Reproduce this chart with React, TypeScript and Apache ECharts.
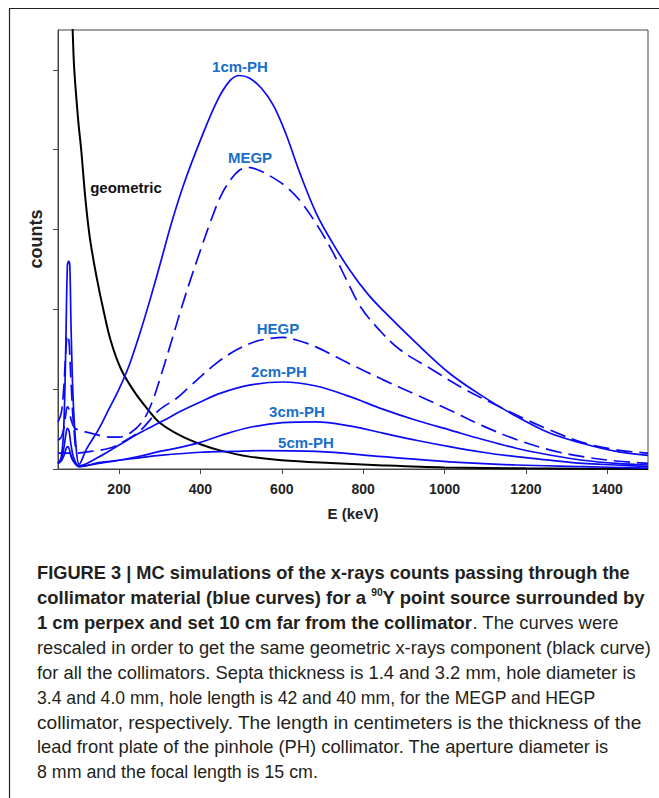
import React, { useEffect, useRef } from "react";
import * as echarts from "echarts";

// ---------- data (keV, counts in arbitrary units) ----------
const xTicks = [200, 400, 600, 800, 1000, 1200, 1400];
const yTicks = [0, 1, 2, 3, 4, 5];

const geoE = [80, 86, 90, 100, 107, 118, 129, 145, 160, 180, 205, 240, 275, 300, 350, 400, 450, 520, 600, 720, 850, 1000, 1200, 1500];
const geoV = [6.3, 5.5, 5.0, 4.35, 4.0, 3.35, 2.87, 2.4, 2.03, 1.6, 1.25, 0.95, 0.72, 0.58, 0.42, 0.31, 0.23, 0.155, 0.11, 0.075, 0.045, 0.02, 0.008, 0];

const e1cm = [50, 58, 64, 69, 73, 76, 79, 82, 87, 94, 102, 120, 150, 175, 200, 225, 250, 275, 300, 330, 360, 400, 440, 470, 494, 520, 550, 580, 610, 645, 685, 725, 766, 810, 850, 930, 1012, 1094, 1176, 1258, 1340, 1422, 1500];
const v1cm = [0.07, 0.15, 0.5, 1.5, 2.55, 2.6, 2.55, 1.8, 0.9, 0.3, 0.06, 0.25, 0.5, 0.75, 1.0, 1.3, 1.68, 2.1, 2.55, 3.1, 3.58, 4.12, 4.6, 4.85, 4.93, 4.9, 4.77, 4.55, 4.2, 3.7, 3.2, 2.83, 2.5, 2.2, 1.98, 1.58, 1.2, 0.91, 0.66, 0.45, 0.32, 0.22, 0.17];

const eMegp = [50, 58, 64, 69, 73, 77, 82, 90, 100, 130, 176, 200, 230, 258, 280, 300, 330, 356, 380, 400, 425, 450, 475, 495, 515, 540, 575, 610, 645, 685, 725, 760, 795, 840, 889, 971, 1053, 1135, 1200, 1258, 1340, 1422, 1500];
const vMegp = [0.36, 0.4, 0.5, 0.68, 0.78, 0.75, 0.62, 0.52, 0.49, 0.45, 0.4, 0.4, 0.46, 0.6, 0.82, 1.12, 1.62, 2.06, 2.44, 2.74, 3.1, 3.42, 3.63, 3.74, 3.78, 3.75, 3.66, 3.54, 3.36, 3.07, 2.72, 2.36, 2.02, 1.74, 1.5, 1.24, 0.99, 0.78, 0.62, 0.49, 0.33, 0.24, 0.2];

const eHegp = [50, 58, 64, 69, 73, 77, 82, 90, 100, 130, 176, 210, 250, 299, 340, 373, 438, 488, 537, 578, 602, 640, 684, 766, 848, 930, 1012, 1094, 1176, 1258, 1340, 1422, 1500];
const vHegp = [0.59, 0.7, 1.0, 1.45, 1.68, 1.6, 1.1, 0.45, 0.2, 0.22, 0.26, 0.34, 0.47, 0.74, 0.88, 1.03, 1.32, 1.49, 1.6, 1.64, 1.65, 1.61, 1.53, 1.32, 1.12, 0.93, 0.74, 0.54, 0.37, 0.24, 0.154, 0.1, 0.07];

const e2cm = [50, 58, 64, 69, 73, 77, 82, 90, 102, 150, 200, 250, 307, 350, 400, 450, 520, 602, 684, 766, 848, 930, 1012, 1094, 1176, 1258, 1340, 1422, 1500];
const v2cm = [0.07, 0.12, 0.25, 0.42, 0.51, 0.48, 0.3, 0.12, 0.04, 0.15, 0.3, 0.45, 0.6, 0.72, 0.84, 0.95, 1.05, 1.09, 1.04, 0.91, 0.75, 0.61, 0.49, 0.37, 0.26, 0.175, 0.11, 0.07, 0.05];

const e3cm = [50, 58, 64, 69, 73, 77, 82, 90, 102, 150, 200, 250, 300, 350, 397, 450, 520, 602, 684, 766, 848, 930, 1012, 1094, 1176, 1258, 1340, 1422, 1500];
const v3cm = [0.07, 0.1, 0.16, 0.24, 0.28, 0.26, 0.17, 0.08, 0.03, 0.07, 0.11, 0.16, 0.22, 0.27, 0.33, 0.42, 0.52, 0.58, 0.59, 0.54, 0.45, 0.36, 0.28, 0.21, 0.154, 0.11, 0.07, 0.05, 0.03];

const e5cm = [50, 60, 70, 78, 85, 95, 102, 150, 200, 250, 300, 400, 480, 550, 684, 848, 1012, 1176, 1340, 1500];
const v5cm = [0.2, 0.2, 0.2, 0.2, 0.12, 0.05, 0.03, 0.08, 0.11, 0.14, 0.17, 0.21, 0.22, 0.23, 0.22, 0.154, 0.09, 0.05, 0.03, 0.01];

const curveNames = ["geometric", "1cm-PH", "MEGP", "HEGP", "2cm-PH", "3cm-PH", "5cm-PH"];

const captionLines: { t: string; b?: boolean; sup?: boolean }[][] = [
  [{ t: "FIGURE 3 | MC simulations of the x-rays counts passing through the", b: true }],
  [
    { t: "collimator material (blue curves) for a ", b: true },
    { t: "90", b: true, sup: true },
    { t: "Y point source surrounded by", b: true },
  ],
  [{ t: "1 cm perpex and set 10 cm far from the collimator", b: true }, { t: ". The curves were" }],
  [{ t: "rescaled in order to get the same geometric x-rays component (black curve)" }],
  [{ t: "for all the collimators. Septa thickness is 1.4 and 3.2 mm, hole diameter is" }],
  [{ t: "3.4 and 4.0 mm, hole length is 42 and 40 mm, for the MEGP and HEGP" }],
  [{ t: "collimator, respectively. The length in centimeters is the thickness of the" }],
  [{ t: "lead front plate of the pinhole (PH) collimator. The aperture diameter is" }],
  [{ t: "8 mm and the focal length is 15 cm." }],
];
const captionEnds = [630, 645, 619, 651, 636, 596, 642, 609, 318];

// ---------- style ----------
const FONT = '"Liberation Sans", Arial, Helvetica, sans-serif';
const BLUE = "#0a0af5";
const LABEL_BLUE = "#1a6fc9";

const zip = (e: number[], v: number[]) => e.map((x, i) => [x, v[i]]);

export default function App() {
  const ref = useRef<HTMLDivElement>(null);

  useEffect(() => {
    if (!ref.current) return;
    const chart = echarts.init(ref.current, null, { renderer: "svg" });

    const canvas = document.createElement("canvas");
    const ctx = canvas.getContext("2d")!;
    const CAP_SIZE = 18;
    const SUP_SIZE = 10;
    const measure = (t: string, bold: boolean, size: number) => {
      ctx.font = `${bold ? "bold " : ""}${size}px "Liberation Sans"`;
      return ctx.measureText(t).width;
    };

    const captionGraphics: any[] = [];
    const x0 = 37;
    captionLines.forEach((segs, li) => {
      const widths = segs.map((s) => measure(s.t, !!s.b, s.sup ? SUP_SIZE : CAP_SIZE));
      const total = widths.reduce((a, b) => a + b, 0);
      const scale = (captionEnds[li] - x0) / total;
      const y = 573 + li * 24.9;
      let cx = x0;
      segs.forEach((s, si) => {
        captionGraphics.push({
          type: "text",
          x: cx,
          y: s.sup ? y - 5 : y,
          scaleX: scale,
          silent: true,
          style: {
            text: s.t,
            fill: "#231f20",
            font: `${s.b ? "bold " : ""}${s.sup ? SUP_SIZE : CAP_SIZE}px ${FONT}`,
            align: "left",
            verticalAlign: "middle",
          },
        });
        cx += widths[si] * scale;
      });
    });

    const labelPos: Record<string, [number, number]> = {
      "geometric": [126, 187],
      "1cm-PH": [240, 66],
      "MEGP": [250, 157],
      "HEGP": [278, 328],
      "2cm-PH": [279, 371],
      "3cm-PH": [297, 411],
      "5cm-PH": [306, 442],
    };
    const labelGraphics = curveNames.map((n) => ({
      type: "text",
      x: labelPos[n][0],
      y: labelPos[n][1],
      silent: true,
      style: {
        text: n,
        fill: n === "geometric" ? "#111" : LABEL_BLUE,
        font: `bold 15px ${FONT}`,
        align: "center",
        verticalAlign: "middle",
      },
    }));

    const lineSeries = (name: string, e: number[], v: number[], color: string, dashed: boolean, width: number) => ({
      type: "line",
      name,
      data: zip(e, v),
      showSymbol: false,
      symbol: "none",
      smooth: 0.35,
      clip: true,
      silent: true,
      lineStyle: { color, width, type: dashed ? [16, 7] : "solid" },
    });

    const option: any = {
      animation: false,
      backgroundColor: "#ffffff",
      grid: {
        left: 58,
        top: 30,
        width: 590,
        height: 439,
        show: true,
        borderColor: "#444",
        borderWidth: 1,
        containLabel: false,
      },
      xAxis: {
        type: "value",
        min: 50,
        max: 1500,
        axisLine: { show: true, onZero: false, lineStyle: { color: "#444", width: 1 } },
        axisTick: { show: true, customValues: xTicks, length: 5, lineStyle: { color: "#444" } },
        axisLabel: {
          customValues: xTicks,
          formatter: (v: number) => String(v),
          fontWeight: "bold",
          fontSize: 14,
          fontFamily: FONT,
          color: "#222",
          margin: 13,
        },
        splitLine: { show: false },
      },
      yAxis: {
        type: "value",
        min: 0,
        max: 5.5,
        axisLine: { show: true, lineStyle: { color: "#444", width: 1 } },
        axisTick: { show: true, customValues: yTicks, length: 5, lineStyle: { color: "#444" } },
        axisLabel: { show: false },
        splitLine: { show: false },
      },
      series: [
        lineSeries("geometric", geoE, geoV, "#000000", false, 2),
        lineSeries("1cm-PH", e1cm, v1cm, BLUE, false, 1.7),
        lineSeries("MEGP", eMegp, vMegp, BLUE, true, 1.7),
        lineSeries("HEGP", eHegp, vHegp, BLUE, true, 1.7),
        lineSeries("2cm-PH", e2cm, v2cm, BLUE, false, 1.7),
        lineSeries("3cm-PH", e3cm, v3cm, BLUE, false, 1.7),
        lineSeries("5cm-PH", e5cm, v5cm, BLUE, false, 1.7),
      ],
      graphic: [
        {
          type: "rect",
          silent: true,
          shape: { x: 9.5, y: 8.5, width: 720, height: 900 },
          style: { fill: "none", stroke: "#222", lineWidth: 1.2 },
        },
        {
          type: "text",
          x: 353,
          y: 513,
          silent: true,
          style: { text: "E (keV)", fill: "#222", font: `bold 15px ${FONT}`, align: "center", verticalAlign: "middle" },
        },
        {
          type: "text",
          x: 36,
          y: 239,
          rotation: Math.PI / 2,
          silent: true,
          style: { text: "counts", fill: "#222", font: `bold 18px ${FONT}`, align: "center", verticalAlign: "middle" },
        },
        ...labelGraphics,
        ...captionGraphics,
      ],
    };

    chart.setOption(option);
    return () => chart.dispose();
  }, []);

  return (
    <div
      ref={ref}
      style={{ position: "absolute", left: 0, top: 0, width: 659, height: 798, background: "#fff" }}
    />
  );
}
